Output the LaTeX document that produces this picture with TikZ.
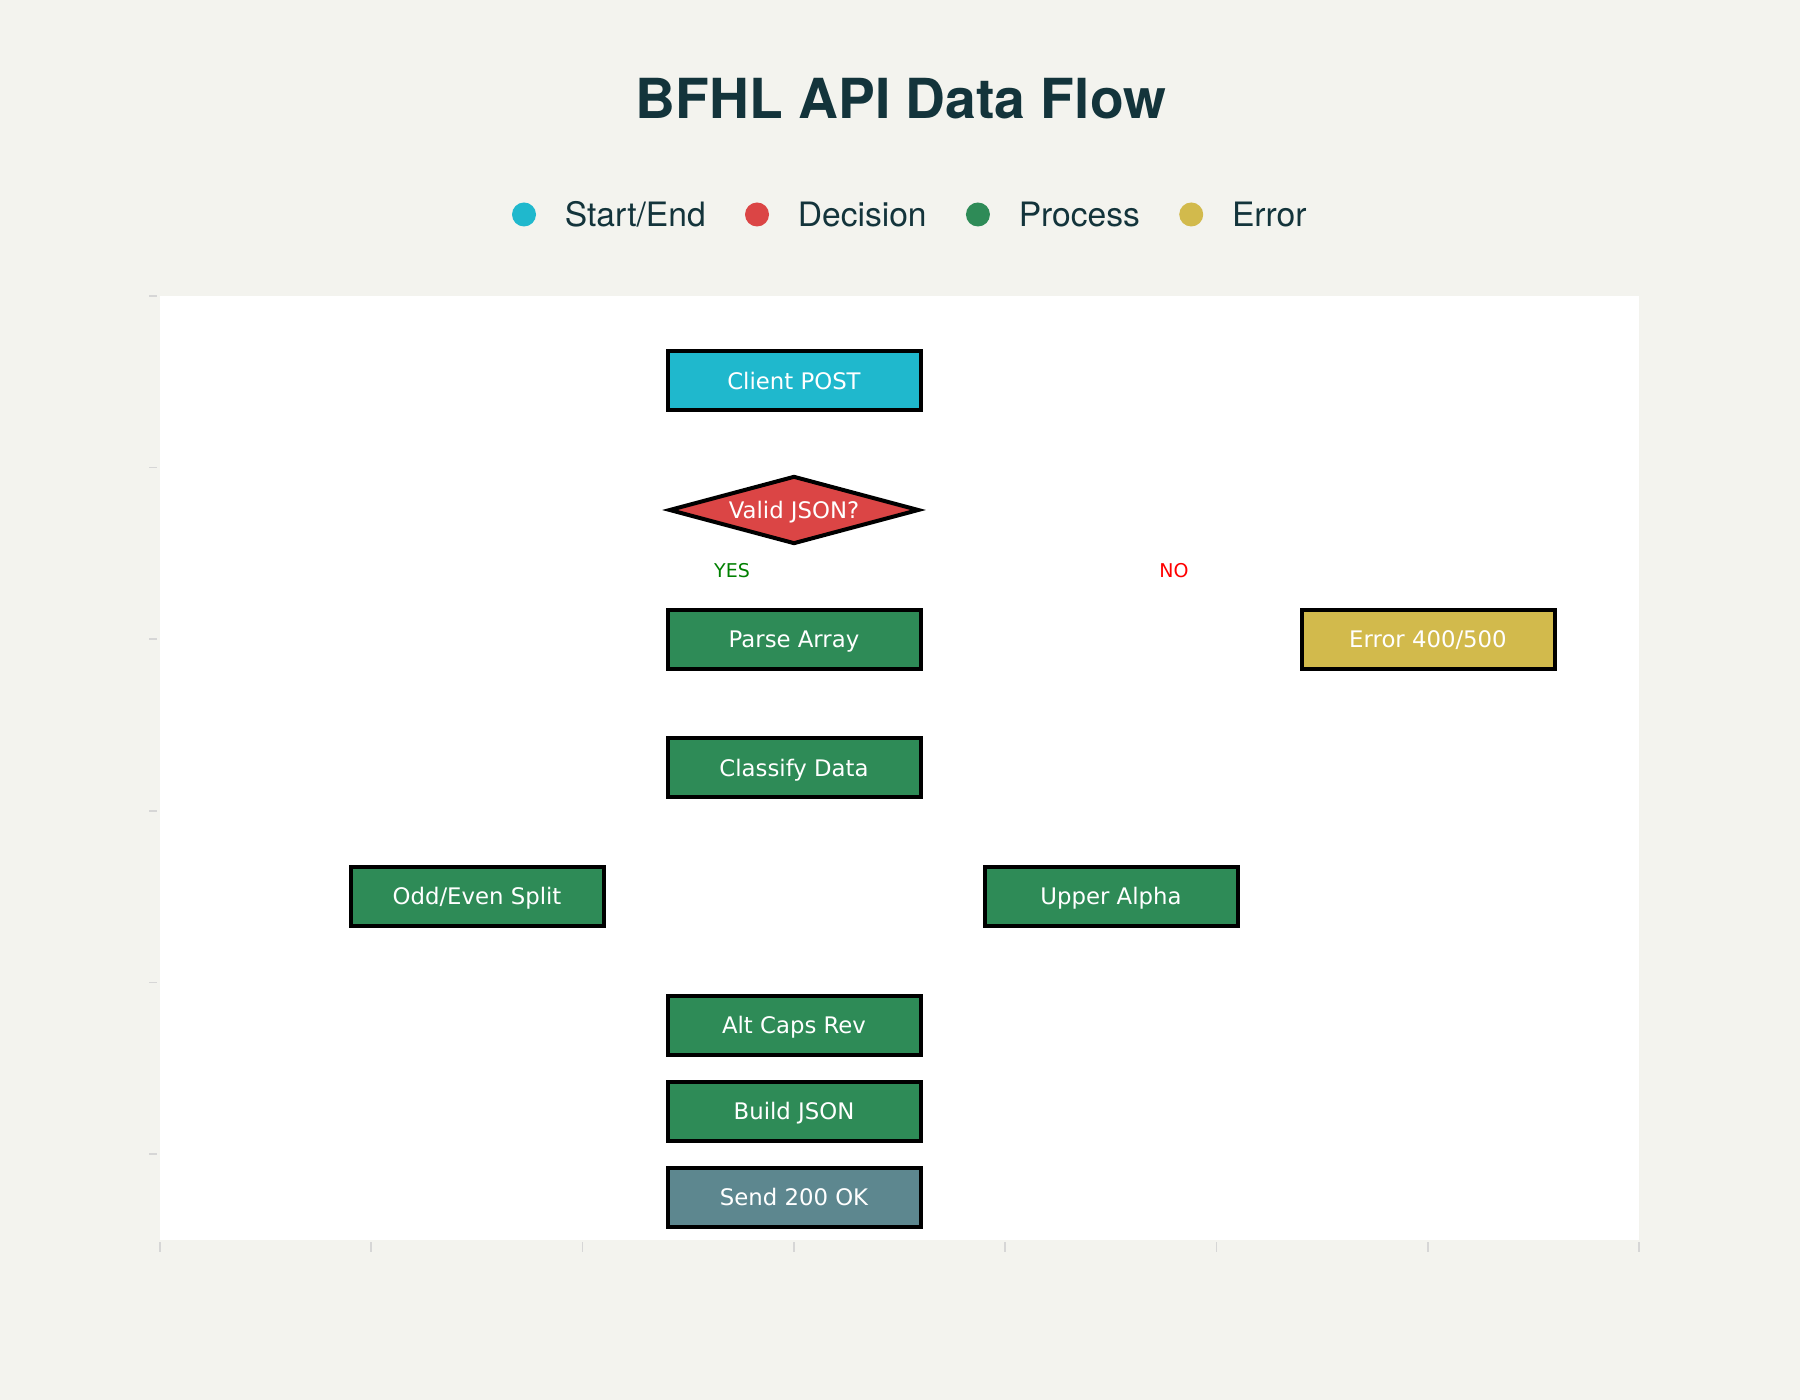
\documentclass[tikz,border=0pt]{standalone}
\usepackage{fontspec}
\setmainfont{TeX Gyre Heros}
\newfontfamily\boxfont{DejaVu Sans}
\usetikzlibrary{positioning,shapes.geometric}

\definecolor{pagebg}{HTML}{F3F3EE}
\definecolor{inkc}{HTML}{13343B}
\definecolor{startc}{HTML}{1FB8CD}
\definecolor{decisionc}{HTML}{DB4545}
\definecolor{processc}{HTML}{2E8B57}
\definecolor{errorc}{HTML}{D2BA4C}
\definecolor{sendc}{HTML}{5D878F}
\definecolor{tickc}{HTML}{D6D6D6}
\definecolor{yesc}{RGB}{0,128,0}
\definecolor{noc}{RGB}{255,0,0}

\begin{document}
\begin{tikzpicture}[x=0.5pt,y=-0.5pt,
                    flowbox/.style={rectangle,draw=black,line width=2pt,minimum width=126.5pt,
                                    minimum height=29.5pt,inner sep=0pt,text=white,
                                    text height=8.3pt,text depth=0pt,
                                    font=\boxfont\fontsize{11.4}{13}\selectfont,on grid},
                    decision/.style={diamond,aspect=4,draw=black,line width=2pt,fill=decisionc,
                                     minimum width=125pt,minimum height=34pt,inner sep=0pt,text=white,
                                     text height=8.3pt,text depth=0pt,
                                     font=\boxfont\fontsize{11.4}{13}\selectfont,on grid},
                    branch/.style={font=\boxfont\fontsize{9.5}{11}\selectfont,inner sep=0pt,on grid},
                    legdot/.style={circle,minimum size=12pt,inner sep=0pt},
                    legtext/.style={text=inkc,font=\fontsize{16.8}{20}\selectfont,inner sep=0pt},
                    axtick/.style={draw=tickc,line width=0.8pt}]

\useasboundingbox (0,0) rectangle (1800,1400);
\fill[pagebg] (0,0) rectangle (1800,1400);
\fill[white] (160,296) rectangle (1639,1240);

% axis ticks
\foreach \k in {0,...,5}
	\draw[axtick] (149,296+171.6*\k) -- (157,296+171.6*\k);
\foreach \k in {0,...,7}
	\draw[axtick] (160+211.29*\k,1242) -- (160+211.29*\k,1252);

\node[text=inkc,font=\bfseries\fontsize{27.6}{34}\selectfont,anchor=base] (title) at (901,119) {BFHL API Data Flow};

% legend
\node[legdot,fill=startc] (dotstart) at (524,214.5) {};
\node[legtext,right=14pt of dotstart] (txtstart) {Start/End};
\node[legdot,fill=decisionc,right=19.25pt of txtstart] (dotdecision) {};
\node[legtext,right=14pt of dotdecision] (txtdecision) {Decision};
\node[legdot,fill=processc,right=19.25pt of txtdecision] (dotprocess) {};
\node[legtext,right=14pt of dotprocess] (txtprocess) {Process};
\node[legdot,fill=errorc,right=19.25pt of txtprocess] (doterror) {};
\node[legtext,right=14pt of doterror] (txterror) {Error};

% main column
\node[flowbox,fill=startc] (client) at (794,381) {Client POST};
\node[decision,below=64.5pt of client] (valid) {Valid JSON?};

\node[branch,text=yesc,below left=30.5pt and 31pt of valid] (yes) {YES};
\node[branch,text=noc,below right=30.5pt and 190pt of valid] (no) {NO};

\node[flowbox,fill=processc,below=64.75pt of valid] (parse) {Parse Array};
\node[flowbox,fill=errorc,right=317pt of parse] (error) {Error 400/500};

\node[flowbox,fill=processc,below=64.25pt of parse] (classify) {Classify Data};
\node[flowbox,fill=processc,below left=64.25pt and 158.5pt of classify] (oddeven) {Odd/Even Split};
\node[flowbox,fill=processc,below right=64.25pt and 158.5pt of classify] (upper) {Upper Alpha};

\node[flowbox,fill=processc,below=128.5pt of classify] (altcaps) {Alt Caps Rev};
\node[flowbox,fill=processc,below=43pt of altcaps] (build) {Build JSON};
\node[flowbox,fill=sendc,below=43pt of build] (send) {Send 200 OK};

\end{tikzpicture}
\end{document}
